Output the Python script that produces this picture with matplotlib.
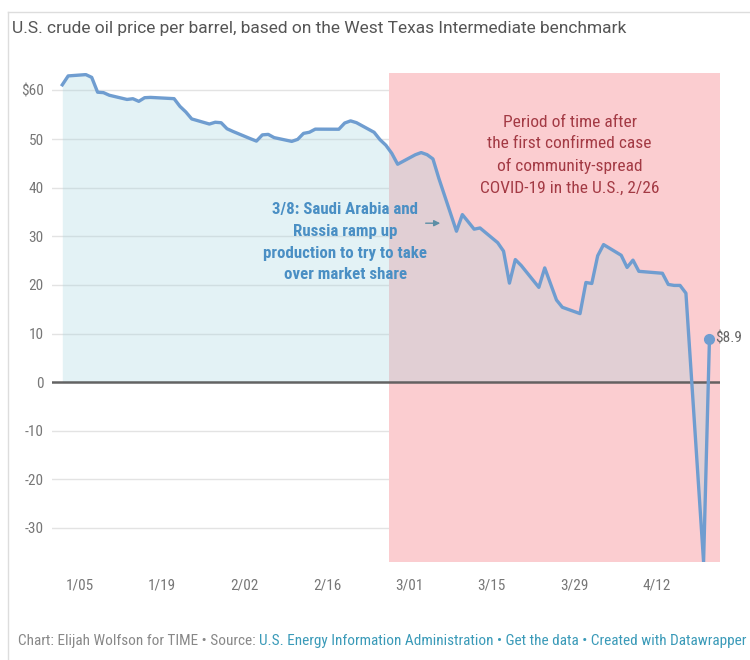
import matplotlib
matplotlib.use("Agg")
import matplotlib.pyplot as plt
from matplotlib.lines import Line2D
import pandas as pd

# WTI spot price, daily
dates = [
    "2020-01-02", "2020-01-03", "2020-01-06", "2020-01-07", "2020-01-08", "2020-01-09",
    "2020-01-10", "2020-01-13", "2020-01-14", "2020-01-15", "2020-01-16", "2020-01-17",
    "2020-01-21", "2020-01-22", "2020-01-23", "2020-01-24", "2020-01-27", "2020-01-28",
    "2020-01-29", "2020-01-30", "2020-01-31",
    "2020-02-03", "2020-02-04", "2020-02-05", "2020-02-06", "2020-02-07", "2020-02-10",
    "2020-02-11", "2020-02-12", "2020-02-13", "2020-02-14", "2020-02-18", "2020-02-19",
    "2020-02-20", "2020-02-21", "2020-02-24", "2020-02-25", "2020-02-26", "2020-02-27",
    "2020-02-28",
    "2020-03-02", "2020-03-03", "2020-03-04", "2020-03-05", "2020-03-06", "2020-03-09",
    "2020-03-10", "2020-03-11", "2020-03-12", "2020-03-13", "2020-03-16", "2020-03-17",
    "2020-03-18", "2020-03-19", "2020-03-20", "2020-03-23", "2020-03-24", "2020-03-25",
    "2020-03-26", "2020-03-27", "2020-03-30", "2020-03-31",
    "2020-04-01", "2020-04-02", "2020-04-03", "2020-04-06", "2020-04-07", "2020-04-08",
    "2020-04-09", "2020-04-13", "2020-04-14", "2020-04-15", "2020-04-16", "2020-04-17",
    "2020-04-20", "2020-04-21",
]
prices = [
    61.17, 63.00, 63.27, 62.70, 59.65, 59.56,
    59.02, 58.16, 58.31, 57.77, 58.52, 58.58,
    58.32, 56.73, 55.58, 54.15, 53.10, 53.47,
    53.37, 52.13, 51.58,
    50.07, 49.59, 50.87, 50.97, 50.31, 49.53,
    49.94, 51.18, 51.41, 52.05, 52.03, 53.31,
    53.75, 53.38, 51.40, 49.88, 48.74, 47.08,
    44.83,
    46.78, 47.23, 46.80, 45.92, 41.94, 31.05,
    34.47, 32.98, 31.47, 31.72, 28.70, 26.95,
    20.37, 25.22, 24.00, 19.50, 23.50, 20.20,
    16.90, 15.40, 14.10, 20.50,
    20.30, 26.00, 28.30, 26.10, 23.60, 25.10,
    22.80, 22.40, 20.10, 19.90, 19.90, 18.30,
    -36.98, 8.91,
]

tick_dates = ["2020-01-05", "2020-01-19", "2020-02-02", "2020-02-16",
              "2020-03-01", "2020-03-15", "2020-03-29", "2020-04-12"]
tick_labels = ["1/05", "1/19", "2/02", "2/16", "3/01", "3/15", "3/29", "4/12"]
y_ticks = [-30, -20, -10, 0, 10, 20, 30, 40, 50, 60]
y_labels = ["-30", "-20", "-10", "0", "10", "20", "30", "40", "50", "$60"]

covid_start = "2020-02-26 14:00"

x = pd.to_datetime(dates)

plt.rcParams["font.family"] = ["Roboto", "DejaVu Sans"]
narrow = ["Roboto Condensed", "Open Sans Condensed", "Barlow Condensed", "DejaVu Sans"]

fig = plt.figure(figsize=(7.5, 6.6), dpi=100)
ax = fig.add_axes([52 / 750, 1 - 562 / 660, 668 / 750, 489 / 660])

x0 = x[0] - pd.Timedelta(hours=42)
x1 = x[0] + pd.Timedelta(hours=2683)
ax.set_xlim(x0, x1)
ax.set_ylim(-37.0, 63.6)

ax.set_yticks(y_ticks)
ax.set_yticklabels(y_labels)
ax.set_xticks(pd.to_datetime(tick_dates))
ax.set_xticklabels(tick_labels)
ax.tick_params(length=0, colors="#777777", labelsize=11)
ax.tick_params(axis="y", pad=6)
ax.tick_params(axis="x", pad=12)
for lab in ax.get_xticklabels() + ax.get_yticklabels():
    lab.set_family(narrow)
for s in ax.spines.values():
    s.set_visible(False)
ax.grid(axis="y", color="#e3e3e3", lw=1, zorder=0)
ax.set_axisbelow(True)

# covid period shading
ax.axvspan(pd.Timestamp(covid_start), x1, color="#fbcdd0", zorder=1, lw=0)

ax.fill_between(x, prices, 0, color="#a5d4de", alpha=0.3, lw=0, zorder=2)
ax.axhline(0, color="#555555", lw=1.8, alpha=0.9, zorder=3)
ax.plot(x, prices, color="#6f9dd0", lw=2.4, zorder=4, solid_joinstyle="round")
ax.plot(x[-1:], prices[-1:], "o", color="#6f9dd0", ms=7, zorder=5, clip_on=False)
ax.annotate("$8.9", (x[-1], prices[-1]), xytext=(4, 0), textcoords="offset points",
            va="center", ha="left", color="#666666", fontsize=11, family=narrow)

# annotations
ax.text(0.775, 0.915, "Period of time after\nthe first confirmed case\nof community-spread\nCOVID-19 in the U.S., 2/26",
        transform=ax.transAxes, ha="center", va="top", color="#a33a44",
        fontsize=12.5, family=narrow, linespacing=1.55, zorder=6)
ax.text(0.4388, 0.737, "3/8: Saudi Arabia and\nRussia ramp up\nproduction to try to take\nover market share",
        transform=ax.transAxes, ha="center", va="top", color="#4a8fc4",
        fontsize=12.2, family=narrow, fontweight="bold", linespacing=1.58, zorder=6)
ax.annotate("", xy=(pd.Timestamp("2020-03-06 17:00"), 32.7),
            xytext=(pd.Timestamp("2020-03-03 07:00"), 32.7),
            arrowprops=dict(arrowstyle="-|>", color="#5d8fa6", lw=1.0,
                            mutation_scale=9), zorder=6)

fig.text(12 / 750, 1 - 28 / 660,
         "U.S. crude oil price per barrel, based on the West Texas Intermediate benchmark",
         ha="left", va="center", color="#555555", fontsize=12.5)

t1 = fig.text(18 / 750, 1 - 645 / 660, "Chart: Elijah Wolfson for TIME \u2022 Source: ",
              ha="left", va="baseline", color="#888888", fontsize=11, family=narrow)
ax.annotate("U.S. Energy Information Administration \u2022 Get the data \u2022 Created with Datawrapper",
            xy=(1, 0), xycoords=t1, va="bottom", ha="left", color="#3a9ab8",
            fontsize=11, family=narrow, annotation_clip=False)

# page frame
fig.add_artist(Line2D([8 / 750, 1], [1 - 12 / 660, 1 - 12 / 660], color="#dddddd", lw=1))
fig.add_artist(Line2D([8 / 750, 8 / 750], [1 - 12 / 660, 0], color="#dddddd", lw=1))

fig.savefig("out.png", dpi=100, facecolor="white")
